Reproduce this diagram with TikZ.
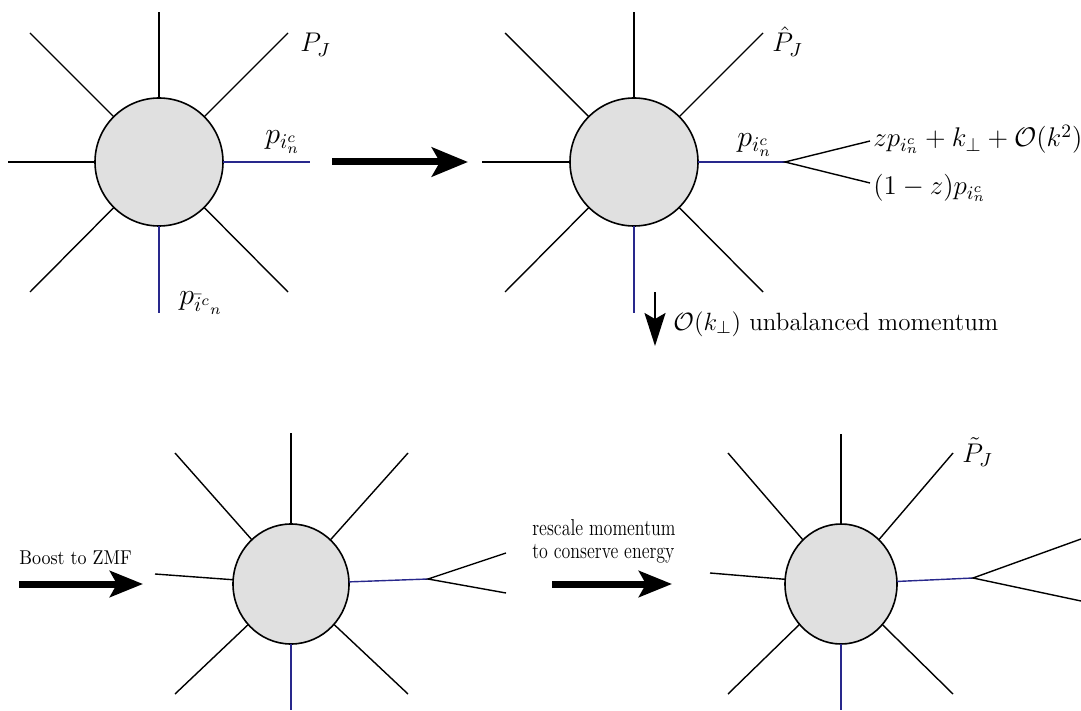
\RequirePackage{fix-cm}
\documentclass[tikz,border=0pt]{standalone}
\usetikzlibrary{arrows.meta,shapes.geometric}
\definecolor{blueline}{RGB}{40,40,140}
\definecolor{blobfill}{RGB}{224,224,224}
\begin{document}
\begin{tikzpicture}[x=0.5pt,y=-0.5pt,
  leg/.style={line width=0.7pt,black},
  qleg/.style={line width=0.7pt,blueline},
  blob/.style={circle,draw,line width=0.8pt,fill=blobfill,minimum size=64pt,inner sep=0pt,outer sep=0pt},
  eblob/.style={ellipse,draw,line width=0.8pt,fill=blobfill,minimum height=60pt,inner sep=0pt,outer sep=0pt},
  lab/.style={font=\fontsize{13.5}{16}\selectfont,inner sep=0pt,anchor=base west},
  plab/.style={font=\fontsize{15}{18}\selectfont,inner sep=0pt,anchor=base west},
  smalllab/.style={font=\fontsize{10}{12}\selectfont,inner sep=0pt,anchor=base west},
  bigarrow/.style={line width=3.5pt,-{Stealth[length=18pt,width=14.5pt,inset=4pt]}},
  midarrow/.style={line width=3.5pt,-{Stealth[length=16.5pt,width=13pt,inset=3.5pt]}},
  downarrow/.style={line width=1pt,-{Stealth[length=16.5pt,width=10.5pt,inset=3pt]}}]
\useasboundingbox (0,0) rectangle (1081,711);

% ---------- top left ----------
\node[blob] (A) at (159,162) {};
\foreach \n/\x/\y in {t/159/12, ul/30/33, ur/288/33, l/8/162, r/310/162, ll/30/292, lr/288/292, b/159/313}
  \coordinate (A-\n) at (\x,\y);
\foreach \n in {t,ul,ur,l,ll,lr} \draw[leg] (A) -- (A-\n);
\draw[qleg] (A) -- (A-r);
\draw[qleg] (A) -- (A-b);
\node[lab] (PJ) at (300,52) {$P_J$};
\node[plab] (pA) at (265,144) {$p_{i_n^c}$};
\node[plab] (pbar) at (179,305) {$p_{\bar{i}^{c}{}_{n}}$};

% ---------- arrow 1 ----------
\coordinate (a1s) at (332,162);
\coordinate (a1e) at (468,162);
\draw[bigarrow] (a1s) -- (a1e);

% ---------- top right ----------
\node[blob] (B) at (634,162) {};
\foreach \n/\x/\y in {t/634/12, ul/505/33, ur/763/33, l/482/162, r/785/162, ll/505/292, lr/763/292, b/634/313, s1/870/141, s2/870/183}
  \coordinate (B-\n) at (\x,\y);
\foreach \n in {t,ul,ur,l,ll,lr} \draw[leg] (B) -- (B-\n);
\draw[qleg] (B) -- (B-r);
\draw[qleg] (B) -- (B-b);
\draw[leg] (B-s1) -- (B-r) -- (B-s2);
\node[lab] (hPJ) at (772,52) {$\hat{P}_J$};
\node[plab] (pB) at (737,147) {$p_{i_n^c}$};
\node[lab] (zp) at (873,147) {$zp_{i_n^c}+k_\perp+\mathcal{O}(k^2)$};
\node[lab] (omz) at (873,195) {$(1-z)p_{i_n^c}$};

% ---------- down arrow ----------
\coordinate (d1) at (655,292);
\coordinate (d2) at (655,346);
\draw[downarrow] (d1) -- (d2);
\node[lab,font=\fontsize{12.5}{15}\selectfont] (unb) at (673,330) {$\mathcal{O}(k_\perp)$ unbalanced momentum};

% ---------- bottom left ----------
\node[eblob,minimum width=58pt] (C) at (291,584) {};
\foreach \n/\x/\y in {t/291/433, ul/175/453, ur/408/453, l/155/574, r/428/579, ll/175/694, lr/408/694, b/291/710, s1/506/553, s2/506/593}
  \coordinate (C-\n) at (\x,\y);
\foreach \n in {t,ul,ur,l,ll,lr} \draw[leg] (C) -- (C-\n);
\draw[qleg] (C) -- (C-r);
\draw[qleg] (C) -- (C-b);
\draw[leg] (C-s1) -- (C-r) -- (C-s2);

\coordinate (a2s) at (19,584);
\coordinate (a2e) at (143,584);
\draw[midarrow] (a2s) -- (a2e);
\node[smalllab] (boost) at (19,564) {\scalebox{0.9}[1]{Boost to ZMF}};

% ---------- bottom right ----------
\coordinate (a3s) at (552,584);
\coordinate (a3e) at (672,584);
\draw[midarrow] (a3s) -- (a3e);
\node[smalllab,font=\fontsize{11.5}{14}\selectfont] (resc1) at (532,535) {\scalebox{0.78}[1]{rescale momentum}};
\node[smalllab,font=\fontsize{11.5}{14}\selectfont] (resc2) at (532,558) {\scalebox{0.78}[1]{to conserve energy}};

\node[eblob,minimum width=56pt] (D) at (841,584) {};
\foreach \n/\x/\y in {t/841/434, ul/728/453, ur/953/453, l/710/573, r/973/578, ll/728/694, lr/953/694, b/841/710, s1/1081/539, s2/1081/601}
  \coordinate (D-\n) at (\x,\y);
\foreach \n in {t,ul,ur,l,ll,lr} \draw[leg] (D) -- (D-\n);
\draw[qleg] (D) -- (D-r);
\draw[qleg] (D) -- (D-b);
\draw[leg] (D-s1) -- (D-r) -- (D-s2);
\node[lab] (tPJ) at (962,462) {$\tilde{P}_J$};
\end{tikzpicture}
\end{document}
